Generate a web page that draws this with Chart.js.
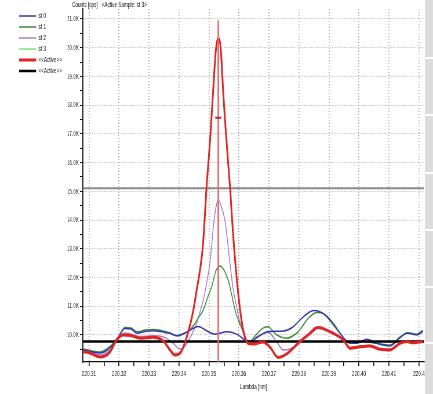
<!DOCTYPE html>
<html>
<head>
<meta charset="utf-8">
<script src="https://cdn.jsdelivr.net/npm/chart.js@4.4.1/dist/chart.umd.min.js"></script>
<style>
  html, body { margin: 0; padding: 0; background: #fff; overflow: hidden; }
  #wrap { position: relative; width: 433px; height: 394px; }
  #chart { position: absolute; left: 0; top: 0; }
  .panel { position: absolute; left: 425px; width: 8px; background: #dcdcdc; }
</style>
</head>
<body>
<div id="wrap">
  <canvas id="chart" width="747" height="394" style="width:433px;height:394px"></canvas>
  <div class="panel" style="top:0;height:57px"></div>
  <div class="panel" style="top:59px;height:55px"></div>
  <div class="panel" style="top:116px;height:56px"></div>
  <div class="panel" style="top:174px;height:55px"></div>
  <div class="panel" style="top:231px;height:55px"></div>
  <div class="panel" style="top:288px;height:54px"></div>
  <div class="panel" style="top:344px;height:50px"></div>
</div>
<script>
"use strict";

///////////////////////////////////////
// Data (lambda in nm, counts in cps)

const st0Lambda = [220.3081, 220.3103, 220.3137, 220.317, 220.3197, 220.322, 220.324, 220.326, 220.3287, 220.3314, 220.3347, 220.337, 220.3392, 220.342, 220.3437, 220.3464, 220.3492, 220.352, 220.3559, 220.3592, 220.362, 220.3637, 220.3659, 220.3703, 220.3748, 220.378, 220.3803, 220.3826, 220.3848, 220.387, 220.3892, 220.3914, 220.3937, 220.3959, 220.3992, 220.4026, 220.4059, 220.4103, 220.4137, 220.4159, 220.4181, 220.4192, 220.4214];
const st0Counts = [9480, 9430, 9370, 9550, 9900, 10230, 10210, 10060, 10120, 10150, 10100, 10060, 9970, 10070, 10170, 10300, 10150, 10030, 10110, 10030, 9830, 9730, 9920, 10120, 10140, 10280, 10520, 10730, 10850, 10810, 10660, 10410, 10070, 9790, 9710, 9850, 9710, 9620, 9900, 10060, 10030, 10000, 10120];

const st1Lambda = [220.3081, 220.3103, 220.3137, 220.317, 220.3197, 220.322, 220.324, 220.326, 220.3287, 220.3314, 220.3347, 220.337, 220.3392, 220.342, 220.3437, 220.345, 220.3464, 220.3481, 220.3495, 220.3509, 220.3523, 220.3537, 220.355, 220.3564, 220.3576, 220.3587, 220.36, 220.3614, 220.3631, 220.3643, 220.3659, 220.368, 220.3698, 220.371, 220.3726, 220.3759, 220.3792, 220.381, 220.3826, 220.3859, 220.3877, 220.3892, 220.3914, 220.3937, 220.397, 220.4014, 220.4059, 220.4103, 220.4137, 220.4164, 220.4192, 220.4214];
const st1Counts = [9510, 9460, 9410, 9600, 9930, 10260, 10240, 10110, 10170, 10190, 10140, 10070, 9980, 10070, 10190, 10350, 10590, 10870, 11290, 11680, 12230, 12400, 12260, 11910, 11390, 10870, 10450, 10140, 9770, 9830, 10030, 10240, 10290, 10170, 10000, 9890, 10060, 10280, 10520, 10780, 10770, 10640, 10350, 10060, 9710, 9770, 9710, 9650, 9930, 10080, 10030, 10170];

const st2Lambda = [220.3081, 220.3103, 220.3137, 220.317, 220.3197, 220.322, 220.324, 220.327, 220.3314, 220.3348, 220.3367, 220.3381, 220.3403, 220.3423, 220.344, 220.3457, 220.347, 220.3481, 220.3493, 220.3503, 220.3517, 220.3525, 220.3531, 220.3538, 220.3553, 220.357, 220.358, 220.3592, 220.3603, 220.3617, 220.3631, 220.365, 220.367, 220.3692, 220.3703, 220.3726, 220.3748, 220.377, 220.3792, 220.3814, 220.3837, 220.3853, 220.387, 220.3892, 220.3914, 220.3948, 220.397, 220.4003, 220.4037, 220.407, 220.4103, 220.4137, 220.4159, 220.4181, 220.4214];
const st2Counts = [9460, 9410, 9300, 9480, 9860, 10070, 10030, 9950, 9970, 9930, 9830, 9710, 9510, 9650, 9970, 10350, 10800, 11220, 11850, 12500, 14000, 14530, 14700, 14560, 14000, 12500, 11640, 10990, 10450, 10000, 9730, 9830, 9970, 10110, 10070, 9760, 9480, 9510, 9650, 9860, 10100, 10260, 10280, 10190, 10080, 9850, 9560, 9610, 9640, 9520, 9500, 9730, 9790, 9750, 9790];

// st 3 is the active sample
const st3Lambda = [220.3081, 220.3103, 220.3137, 220.317, 220.3192, 220.3214, 220.324, 220.327, 220.3314, 220.3348, 220.337, 220.3387, 220.3407, 220.3423, 220.3437, 220.3448, 220.3459, 220.347, 220.348, 220.3492, 220.3503, 220.3513, 220.3523, 220.3531, 220.3539, 220.3548, 220.3559, 220.357, 220.3581, 220.359, 220.3601, 220.3614, 220.3631, 220.3653, 220.368, 220.3703, 220.3731, 220.3759, 220.3803, 220.3837, 220.3864, 220.3892, 220.3914, 220.3948, 220.397, 220.4003, 220.4037, 220.407, 220.4103, 220.4137, 220.4159, 220.4181, 220.4214];
const st3Counts = [9420, 9370, 9230, 9410, 9830, 10000, 9980, 9890, 9920, 9790, 9480, 9300, 9410, 9830, 10350, 10870, 11570, 12260, 13130, 15160, 16680, 18350, 19920, 20330, 19990, 18350, 16680, 15160, 13420, 12260, 11110, 10170, 9700, 9690, 9760, 9580, 9220, 9340, 9770, 10060, 10260, 10170, 10060, 9830, 9540, 9590, 9620, 9500, 9480, 9710, 9770, 9730, 9770];

const levelLambda = [220.308, 220.4217];
const blackLevelCounts = [9770, 9770];
const greyLevelCounts = [15110, 15110];

const peakLambda = [220.3531, 220.3531];
const peakLineCounts = [9060, 20960];
const peakMarkCounts = [17560];

const xTickValues = [220.31, 220.315, 220.32, 220.325, 220.33, 220.335, 220.34, 220.345, 220.35, 220.355, 220.36, 220.365, 220.37, 220.375, 220.38, 220.385, 220.39, 220.395, 220.4, 220.405, 220.41, 220.415, 220.42];
const xTickLabels = ["220.31", "", "220.32", "", "220.33", "", "220.34", "", "220.35", "", "220.36", "", "220.37", "", "220.38", "", "220.39", "", "220.40", "", "220.41", "", "220.4"];
const yTickValues = [9500, 10000, 10500, 11000, 11500, 12000, 12500, 13000, 13500, 14000, 14500, 15000, 15500, 16000, 16500, 17000, 17500, 18000, 18500, 19000, 19500, 20000, 20500, 21000];
const yTickLabels = ["", "10.0K", "", "11.0K", "", "12.0K", "", "13.0K", "", "14.0K", "", "15.0K", "", "16.0K", "", "17.0K", "", "18.0K", "", "19.0K", "", "20.0K", "", "21.0K"];

///////////////////////////////////////
// Setup

// the reference is squeezed sideways: draw wide, show at 433px
const S = 433 / 747;
const px = (v) => v / S;

const font = { family: "'Liberation Sans', Arial, sans-serif", size: 8 };
const textColor = "#111111";
const gridColor = "#a6a6a6";
const clear = "rgba(0,0,0,0)";

const frame = { left: px(83), right: px(424), top: 9, bottom: 362 };
let yAxisWidth = 30;
let xAxisHeight = 32;

const toPoints = (xs, ys) => xs.map((x, i) => ({ x: x, y: ys[i] }));

const lineSet = function (label, xs, ys, color, width, order) {
  return {
    label: label,
    data: toPoints(xs, ys),
    borderColor: color,
    backgroundColor: color,
    borderWidth: width,
    pointRadius: 0,
    cubicInterpolationMode: "monotone",
    order: order,
  };
};

const datasets = [
  lineSet("st 0", st0Lambda, st0Counts, "#3535b0", 1.5, 3),
  lineSet("st 1", st1Lambda, st1Counts, "#3a8a3a", 1.5, 4),
  lineSet("st 2", st2Lambda, st2Counts, "#a67cc6", 1.5, 5),
  lineSet("st 3", st3Lambda, st3Counts, "#7fe07f", 1.5, 6),
  lineSet("<<Active>>", st3Lambda, st3Counts, "#e02424", 3, 1),
  lineSet("<<Active>>", levelLambda, blackLevelCounts, "#000000", 2.5, 2),
  lineSet("level", levelLambda, greyLevelCounts, "#8a8a8a", 2, 9),
  lineSet("peak", peakLambda, peakLineCounts, "#e86c6c", px(1.6), 0),
  {
    label: "mark",
    data: toPoints(peakLambda.slice(0, 1), peakMarkCounts),
    showLine: false,
    pointStyle: "line",
    pointRadius: px(3),
    pointBorderWidth: 2,
    pointBorderColor: "#d42020",
    order: -1,
  },
];

const labelAt = (labels) => (v, i) => labels[i];
const majorGrid = (labels) => (ctx) => (ctx.tick && labels[ctx.index] ? gridColor : clear);

const captionPlugin = {
  id: "caption",
  afterDraw(chart) {
    const c = chart.ctx;
    c.save();
    c.font = "8px 'Liberation Sans', Arial, sans-serif";
    c.fillStyle = textColor;
    c.textBaseline = "middle";
    c.fillText("Counts [cps]   <Active Sample: st 3>", chart.chartArea.left - px(11), 5);
    c.restore();
  },
};

const config = {
  type: "line",
  data: { datasets: datasets },
  plugins: [captionPlugin],
  options: {
    responsive: false,
    animation: false,
    events: [],
    layout: { padding: { left: 30, right: 12, top: 9, bottom: 0 } },
    plugins: {
      tooltip: { enabled: false },
      title: { display: false },
      legend: {
        position: "left",
        align: "start",
        labels: {
          usePointStyle: true,
          pointStyle: "line",
          pointStyleWidth: px(17),
          padding: 3,
          font: font,
          color: textColor,
          filter: (item) => item.datasetIndex < 6,
          sort: (a, b) => a.datasetIndex - b.datasetIndex,
        },
      },
    },
    scales: {
      x: {
        type: "linear",
        min: 220.308,
        max: 220.4217,
        afterBuildTicks: (scale) => { scale.ticks = xTickValues.map((v) => ({ value: v })); },
        afterFit: (scale) => { scale.height = xAxisHeight; },
        ticks: {
          autoSkip: false,
          maxRotation: 0,
          padding: 3,
          font: font,
          color: textColor,
          callback: labelAt(xTickLabels),
        },
        grid: {
          color: majorGrid(xTickLabels),
          lineWidth: px(1),
          tickLength: 4,
          tickColor: textColor,
          tickWidth: px(1),
          tickBorderDash: [],
        },
        border: { color: textColor, width: 1.3, dash: [1, 2] },
        title: {
          display: true,
          text: "Lambda [nm]",
          font: font,
          color: textColor,
          padding: { top: 2, bottom: 2 },
        },
      },
      y: {
        type: "linear",
        min: 9060,
        max: 21348,
        afterBuildTicks: (scale) => { scale.ticks = yTickValues.map((v) => ({ value: v })); },
        afterFit: (scale) => { scale.width = yAxisWidth; },
        ticks: {
          autoSkip: false,
          padding: 2,
          font: font,
          color: textColor,
          callback: labelAt(yTickLabels),
        },
        grid: {
          color: majorGrid(yTickLabels),
          lineWidth: 1,
          tickLength: px(3),
          tickColor: textColor,
          tickWidth: 1,
          tickBorderDash: [],
        },
        border: { color: textColor, width: px(1), dash: [1, 2] },
      },
    },
  },
};

///////////////////////////////////////
// Chart display

const chartEl = document.getElementById("chart");
const chart = new Chart(chartEl, config);

// nudge the plot box onto the reference frame
for (let k = 0; k < 3; k++) {
  const a = chart.chartArea;
  const pad = chart.options.layout.padding;
  yAxisWidth += frame.left - a.left;
  xAxisHeight += a.bottom - frame.bottom;
  chart.options.layout.padding = {
    left: pad.left,
    right: pad.right + (a.right - frame.right),
    top: pad.top + (frame.top - a.top),
    bottom: pad.bottom,
  };
  chart.update("none");
}
</script>
</body>
</html>
